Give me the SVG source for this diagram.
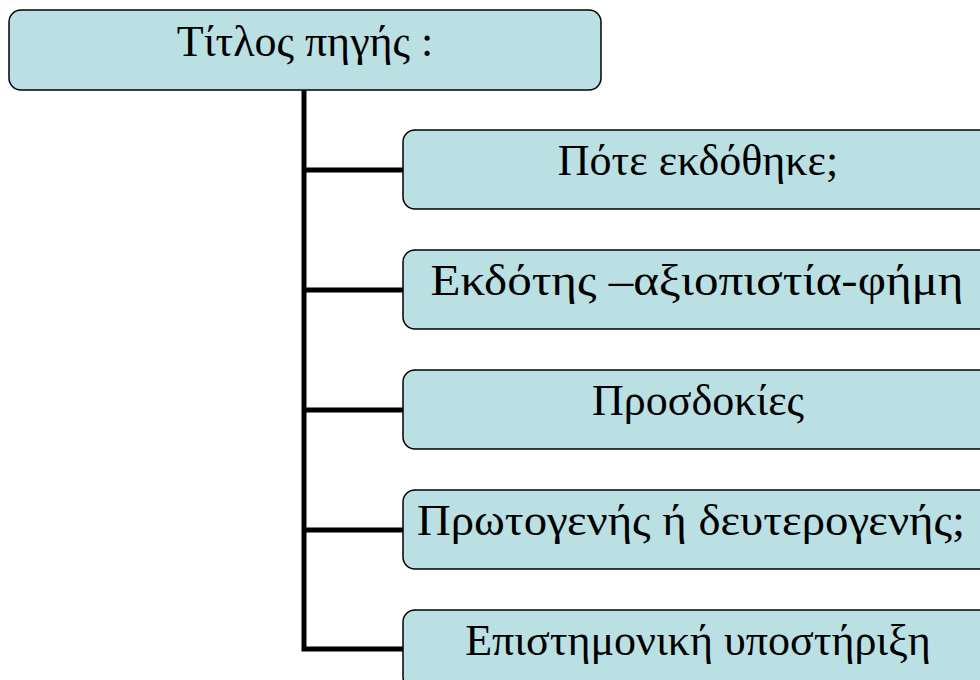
<svg xmlns="http://www.w3.org/2000/svg" width="980" height="680" viewBox="0 0 980 680">
<style>
.box{fill:#BBE0E3;stroke:#000;stroke-width:1.5}
.t{font-family:"Liberation Serif","Times New Roman",serif;font-size:44px;fill:#000;text-anchor:middle}
.c{stroke:#000;stroke-width:5;fill:none}
</style>
<rect width="980" height="680" fill="#fff"/>
<g id="connectors">
<path class="c" d="M304 90 V649 H403"/>
<path class="c" d="M304 170 H403 M304 290 H403 M304 410 H403 M304 530 H403"/>
</g>
<g id="title"><rect class="box" x="9" y="10" width="592" height="80" rx="12"/><text class="t" x="305" y="56">Τίτλος πηγής :</text></g>
<g id="n1"><rect class="box" x="403" y="130" width="592" height="79" rx="12"/><text class="t" x="698" y="175">Πότε εκδόθηκε;</text></g>
<g id="n2"><rect class="box" x="403" y="250" width="592" height="79" rx="12"/><text class="t" x="697" y="295" textLength="533" lengthAdjust="spacingAndGlyphs">Εκδότης –αξιοπιστία-φήμη</text></g>
<g id="n3"><rect class="box" x="403" y="370" width="592" height="79" rx="12"/><text class="t" x="698" y="415">Προσδοκίες</text></g>
<g id="n4"><rect class="box" x="403" y="490" width="592" height="79" rx="12"/><text class="t" x="691" y="535" textLength="548" lengthAdjust="spacingAndGlyphs">Πρωτογενής ή δευτερογενής;</text></g>
<g id="n5"><rect class="box" x="403" y="610" width="592" height="79" rx="12"/><text class="t" x="698" y="655">Επιστημονική υποστήριξη</text></g>
</svg>
